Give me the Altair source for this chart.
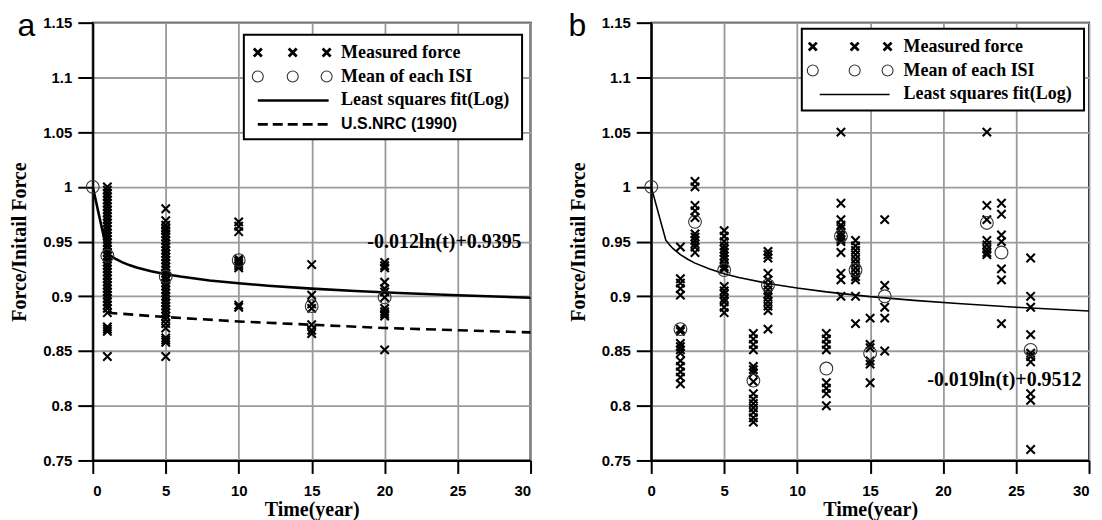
import altair as alt
import pandas as pd

# ---------------- Panel a data ----------------
a_t1 = [1.000, 0.997, 0.994, 0.991, 0.988, 0.985, 0.982, 0.979, 0.976, 0.973,
        0.970, 0.967, 0.964, 0.961, 0.958, 0.955, 0.952, 0.949, 0.946, 0.943,
        0.940, 0.937, 0.934, 0.931, 0.928, 0.925, 0.922, 0.919, 0.916, 0.913,
        0.910, 0.907, 0.904, 0.901, 0.898, 0.895, 0.892, 0.889, 0.885, 0.872,
        0.870, 0.868, 0.845]
a_t5 = [0.980, 0.969, 0.965, 0.962, 0.960, 0.957, 0.954, 0.951, 0.948, 0.945,
        0.942, 0.939, 0.936, 0.933, 0.930, 0.927, 0.924, 0.921, 0.918, 0.915,
        0.912, 0.909, 0.906, 0.903, 0.900, 0.897, 0.894, 0.891, 0.888, 0.885,
        0.882, 0.879, 0.875, 0.871, 0.862, 0.860, 0.858, 0.845]
a_t10 = [0.968, 0.964, 0.959, 0.934, 0.932, 0.930, 0.928, 0.926, 0.892, 0.890]
a_t15 = [0.929, 0.901, 0.893, 0.889, 0.874, 0.869, 0.866]
a_t20 = [0.931, 0.928, 0.926, 0.913, 0.907, 0.904, 0.899, 0.889, 0.886, 0.884,
         0.882, 0.851]
a_mean_t = [0, 1, 5, 10, 15, 20]
a_mean_f = [1.000, 0.937, 0.918, 0.933, 0.891, 0.899]
a_fit_t = [0, 1, 1.25, 1.5, 2, 2.5, 3, 4, 5, 6, 8, 10, 12, 15, 18, 21, 25, 30]
a_fit_f = [1.000, 0.9395, 0.9368, 0.9346, 0.9312, 0.9285, 0.9263, 0.9229, 0.9202,
           0.9180, 0.9145, 0.9119, 0.9097, 0.9070, 0.9048, 0.9030, 0.9009, 0.8987]
a_nrc_t = [1, 5, 10, 15, 20, 25, 30]
a_nrc_f = [0.885, 0.881, 0.877, 0.874, 0.871, 0.869, 0.867]

# ---------------- Panel b data ----------------
b_groups_t = [2, 3, 5, 7, 8, 12, 13, 14, 15, 16, 23, 24, 26]
b_t2 = [0.945, 0.916, 0.912, 0.907, 0.901, 0.870, 0.868, 0.857, 0.854, 0.851,
        0.848, 0.841, 0.836, 0.831, 0.826, 0.820]
b_t3 = [1.005, 1.000, 0.983, 0.978, 0.972, 0.957, 0.954, 0.951, 0.948, 0.945, 0.940]
b_t5 = [0.960, 0.955, 0.950, 0.946, 0.943, 0.940, 0.937, 0.934, 0.930, 0.927,
        0.925, 0.909, 0.905, 0.902, 0.898, 0.895, 0.890, 0.885]
b_t7 = [0.866, 0.861, 0.856, 0.851, 0.836, 0.833, 0.830, 0.822, 0.811, 0.806,
        0.802, 0.798, 0.794, 0.789, 0.785]
b_t8 = [0.941, 0.938, 0.935, 0.921, 0.915, 0.910, 0.906, 0.902, 0.899, 0.895,
        0.891, 0.887, 0.870]
b_t12 = [0.866, 0.861, 0.856, 0.851, 0.821, 0.816, 0.811, 0.800]
b_t13 = [1.050, 0.985, 0.970, 0.965, 0.962, 0.958, 0.955, 0.952, 0.950, 0.940,
         0.921, 0.915, 0.900]
b_t14 = [0.951, 0.946, 0.942, 0.938, 0.934, 0.930, 0.926, 0.922, 0.918, 0.915,
         0.900, 0.875]
b_t15 = [0.880, 0.856, 0.853, 0.841, 0.838, 0.821]
b_t16 = [0.970, 0.910, 0.890, 0.880, 0.850]
b_t23 = [1.050, 0.983, 0.970, 0.951, 0.947, 0.943, 0.940, 0.938]
b_t24 = [0.985, 0.975, 0.956, 0.950, 0.925, 0.915, 0.875]
b_t26 = [0.935, 0.900, 0.890, 0.865, 0.848, 0.845, 0.840, 0.811, 0.805, 0.760]
b_mean_t = [0, 2, 3, 5, 7, 8, 12, 13, 14, 15, 16, 23, 24, 26]
b_mean_f = [1.000, 0.870, 0.968, 0.924, 0.823, 0.910, 0.834, 0.955, 0.924,
            0.848, 0.900, 0.967, 0.940, 0.851]
b_fit_t = [0, 1, 1.25, 1.5, 2, 2.5, 3, 4, 5, 6, 8, 10, 12, 15, 18, 21, 25, 30]
b_fit_f = [1.000, 0.9512, 0.9470, 0.9435, 0.9380, 0.9338, 0.9303, 0.9249, 0.9206,
           0.9172, 0.9117, 0.9075, 0.9040, 0.8997, 0.8963, 0.8934, 0.8900, 0.8866]

x_ticks = [0, 5, 10, 15, 20, 25, 30]
y_ticks = [0.75, 0.8, 0.85, 0.9, 0.95, 1.0, 1.05, 1.1, 1.15]

eq_a = "-0.012ln(t)+0.9395"
eq_b = "-0.019ln(t)+0.9512"
eq_a_pos = (24.1, 0.9496)
eq_b_pos = (24.2, 0.8234)

# ---------------- helpers ----------------
SERIF = "Liberation Serif"
SANS = "Liberation Sans"
XPATH = "M-1,-1L1,1M-1,1L1,-1"
W, H = 439, 439


def groups_df(times, lists):
    rows = []
    for t, vals in zip(times, lists):
        rows += [{"t": t, "f": v} for v in vals]
    return pd.DataFrame(rows)


xscale = alt.Scale(domain=[0, 30], nice=False)
yscale = alt.Scale(domain=[0.75, 1.15], nice=False, zero=False)
xaxis_a = alt.Axis(values=x_ticks, title="Time(year)", grid=True,
                   titleX=W / 2, titleY=49, titleBaseline="middle",
                   tickSize=13, labelPadding=10)
xaxis_b = alt.Axis(values=x_ticks, title="Time(year)", grid=True,
                   titleX=W / 2, titleY=49, titleBaseline="middle",
                   tickSize=13, labelPadding=10,
                   labelAlign={"condition": {"test": "datum.value === 30", "value": "right"},
                               "value": "center"})
yaxis = alt.Axis(values=y_ticks, format="~g", title="Force/Initail Force",
                 grid=True, titleX=-73, titleY=H / 2, titleBaseline="middle",
                 tickSize=15, labelPadding=6)


def make_enc(xaxis):
    def enc(chart):
        return chart.encode(x=alt.X("t:Q", scale=xscale, axis=xaxis),
                            y=alt.Y("f:Q", scale=yscale, axis=yaxis))
    return enc


one = pd.DataFrame({"k": [0]})


def legend(box, rows, sym_x, text_x, line_x, line_w):
    x0, x1, y0, y1 = box
    layers = [alt.Chart(one).mark_rect(fill="white", stroke="black", strokeWidth=2)
              .encode(x=alt.value(x0), x2=alt.value(x1), y=alt.value(y0), y2=alt.value(y1))]
    for kind, label, y, font in rows:
        if kind == "cross":
            for sx in sym_x:
                layers.append(alt.Chart(one).mark_point(shape=XPATH, filled=False, stroke="black",
                                                         strokeWidth=2.8, size=64, opacity=1)
                              .encode(x=alt.value(sx), y=alt.value(y)))
        elif kind == "circle":
            for sx in sym_x:
                layers.append(alt.Chart(one).mark_point(shape="circle", filled=False, stroke="#333",
                                                         strokeWidth=1.1, size=121, opacity=1)
                              .encode(x=alt.value(sx), y=alt.value(y)))
        elif kind == "line":
            layers.append(alt.Chart(one).mark_rule(stroke="black", strokeWidth=line_w)
                          .encode(x=alt.value(line_x[0]), x2=alt.value(line_x[1]), y=alt.value(y)))
        elif kind == "dash":
            layers.append(alt.Chart(one).mark_rule(stroke="black", strokeWidth=2.6, strokeDash=[10, 5])
                          .encode(x=alt.value(line_x[0]), x2=alt.value(line_x[1]), y=alt.value(y)))
        fsize = 18 if font == SERIF else 16
        layers.append(alt.Chart(one).mark_text(text=label, font=font, fontSize=fsize, fontWeight="bold",
                                               align="left", baseline="middle", color="black")
                      .encode(x=alt.value(text_x), y=alt.value(y)))
    return layers


def panel(enc, meas, means, fit, fit_w, eq, eq_pos, letter, letter_x, leg_layers, nrc=None):
    layers = [
        enc(alt.Chart(meas).mark_point(shape=XPATH, filled=False, stroke="black",
                                       strokeWidth=2.1, size=70, opacity=1)),
        enc(alt.Chart(fit).mark_line(color="black", strokeWidth=fit_w)),
    ]
    if nrc is not None:
        layers.append(enc(alt.Chart(nrc).mark_line(color="black", strokeWidth=2.6,
                                                   strokeDash=[10, 6])))
    layers.append(enc(alt.Chart(means).mark_point(shape="circle", filled=False, stroke="#333",
                                                  strokeWidth=1.1, size=165, opacity=1)))
    eq_df = pd.DataFrame({"t": [eq_pos[0]], "f": [eq_pos[1]], "label": [eq]})
    layers.append(enc(alt.Chart(eq_df).mark_text(font=SERIF, fontSize=20, fontWeight="bold",
                                                 align="center", baseline="middle", color="black"))
                  .encode(text="label:N"))
    layers += leg_layers
    layers.append(alt.Chart(one).mark_text(text=letter, font=SANS, fontSize=32, align="left",
                                           baseline="alphabetic", color="black")
                  .encode(x=alt.value(letter_x), y=alt.value(13)))
    return alt.layer(*layers).properties(width=W, height=H)


meas_a = groups_df([1, 5, 10, 15, 20], [a_t1, a_t5, a_t10, a_t15, a_t20])
means_a = pd.DataFrame({"t": a_mean_t, "f": a_mean_f})
fit_a = pd.DataFrame({"t": a_fit_t, "f": a_fit_f})
nrc_a = pd.DataFrame({"t": a_nrc_t, "f": a_nrc_f})

meas_b = groups_df(b_groups_t, [b_t2, b_t3, b_t5, b_t7, b_t8, b_t12, b_t13, b_t14,
                                b_t15, b_t16, b_t23, b_t24, b_t26])
means_b = pd.DataFrame({"t": b_mean_t, "f": b_mean_f})
fit_b = pd.DataFrame({"t": b_fit_t, "f": b_fit_f})

leg_a = legend((151.5, 430.5, 12, 117),
               [("cross", "Measured force", 30, SERIF),
                ("circle", "Mean of each ISI", 54, SERIF),
                ("line", "Least squares fit(Log)", 78, SERIF),
                ("dash", "U.S.NRC (1990)", 102, SANS)],
               [165.5, 200.5, 234.5], 249, (165.5, 236.5), 2.6)
leg_b = legend((151, 434, 6, 88),
               [("cross", "Measured force", 24, SERIF),
                ("circle", "Mean of each ISI", 48, SERIF),
                ("line", "Least squares fit(Log)", 72, SERIF)],
               [162, 204, 237], 253, (169, 239), 1.6)

pa = panel(make_enc(xaxis_a), meas_a, means_a, fit_a, 2.6, eq_a, eq_a_pos, "a", -75.5,
           leg_a, nrc=nrc_a)
pb = panel(make_enc(xaxis_b), meas_b, means_b, fit_b, 1.6, eq_b, eq_b_pos, "b", -83, leg_b)

chart = alt.hconcat(pa, pb, spacing=30).properties(
    padding={"left": 1, "top": 0, "right": 0, "bottom": 0}
).configure_view(
    stroke="black", strokeWidth=2
).configure_axis(
    domainColor="black", domainWidth=2, tickColor="black", tickWidth=2,
    gridColor="#9a9a9a", gridWidth=1.8,
    labelFont=SANS, labelFontSize=15, labelFontWeight="bold", labelColor="black",
    titleFont=SERIF, titleFontSize=20, titleFontWeight="bold", titleColor="black"
)

chart.save("out.html", embed_options={"renderer": "svg", "actions": False})
